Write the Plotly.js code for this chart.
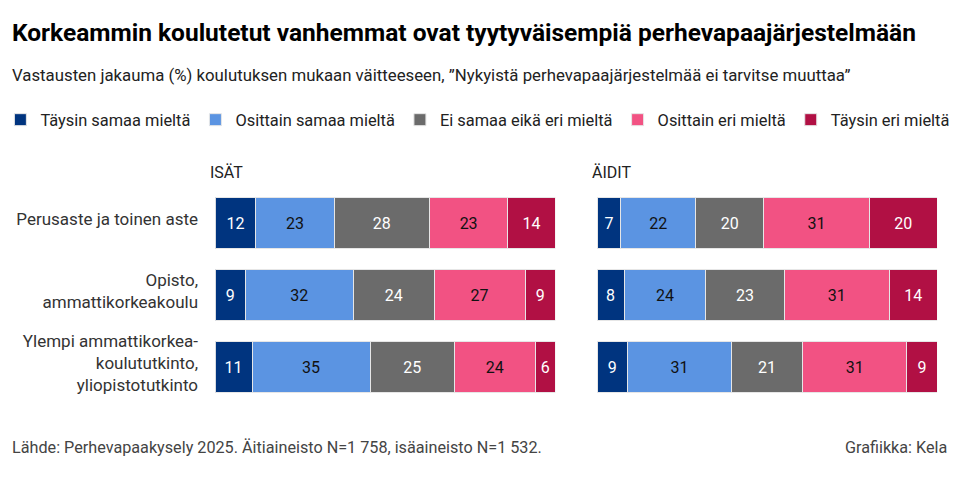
<!DOCTYPE html>
<html>
<head>
<meta charset="utf-8">
<script src="https://cdn.plot.ly/plotly-3.0.1.min.js"></script>
<style>
  html, body { margin: 0; padding: 0; background: #fff; }
</style>
</head>
<body>
<div id="chart" style="width:960px;height:482px;"></div>
<script>
// education levels, top to bottom
const categories = [
    'Perusaste ja toinen aste',
    'Opisto,<br>ammattikorkeakoulu',
    'Ylempi ammattikorkea-<br>koulututkinto,<br>yliopistotutkinto'
];
const responses = ['Täysin samaa mieltä', 'Osittain samaa mieltä', 'Ei samaa eikä eri mieltä', 'Osittain eri mieltä', 'Täysin eri mieltä'];
const colors = ['#00347f', '#5b94e2', '#6b6b6b', '#f25283', '#b11044'];
const textColors = ['#ffffff', '#111111', '#ffffff', '#111111', '#ffffff'];

// ISÄT (fathers), one array per response, values per category
const isatTaysinSamaa = [12, 9, 11];
const isatOsittainSamaa = [23, 32, 35];
const isatEiSamaaEiEri = [28, 24, 25];
const isatOsittainEri = [23, 27, 24];
const isatTaysinEri = [14, 9, 6];

// ÄIDIT (mothers)
const aiditTaysinSamaa = [7, 8, 9];
const aiditOsittainSamaa = [22, 24, 31];
const aiditEiSamaaEiEri = [20, 23, 21];
const aiditOsittainEri = [31, 31, 31];
const aiditTaysinEri = [20, 14, 9];

const isat = [isatTaysinSamaa, isatOsittainSamaa, isatEiSamaaEiEri, isatOsittainEri, isatTaysinEri];
const aidit = [aiditTaysinSamaa, aiditOsittainSamaa, aiditEiSamaaEiEri, aiditOsittainEri, aiditTaysinEri];

const FONT = 'Roboto, "Noto Sans", sans-serif';

var data = [];
function addTraces(series, xaxis, yaxis, showlegend) {
    series.forEach((values, i) => {
        data.push({
            type: 'bar',
            orientation: 'h',
            x: values,
            y: categories,
            xaxis: xaxis,
            yaxis: yaxis,
            name: responses[i],
            legendgroup: responses[i],
            showlegend: showlegend,
            text: values.map(String),
            texttemplate: '%{text}',
            textposition: 'inside',
            insidetextanchor: 'middle',
            textangle: 0,
            constraintext: 'none',
            textfont: { family: FONT, size: 16, color: textColors[i] },
            marker: { color: colors[i], line: { color: '#e6e6e6', width: 1 } },
            hoverinfo: 'skip'
        });
    });
}
addTraces(isat, 'x', 'y', true);
addTraces(aidit, 'x2', 'y2', false);

// plot area starts 130px from the top, so the legend sits above it
const TOP = 130, H = 482;
function py(px) { return (H - px) / (H - TOP); }

const yDomain = [py(403), py(187)];
const hiddenX = { range: [0, 100], showgrid: false, zeroline: false, showticklabels: false, showline: false, fixedrange: true };

const layout = {
    width: 960,
    height: H,
    margin: { l: 0, r: 0, t: TOP, b: 0 },
    paper_bgcolor: '#ffffff',
    plot_bgcolor: '#ffffff',
    font: { family: FONT, color: '#333333' },
    barmode: 'stack',
    barnorm: 'percent',
    bargap: 0.29,
    xaxis: Object.assign({ domain: [0.2175, 0.575] }, hiddenX),
    xaxis2: Object.assign({ domain: [0.6187, 0.976] }, hiddenX),
    yaxis: {
        domain: yDomain,
        anchor: 'x',
        autorange: 'reversed',
        showgrid: false,
        zeroline: false,
        showline: false,
        ticks: '',
        ticklabelstandoff: 16,
        ticklabelshift: 4,
        tickfont: { family: FONT, size: 17, color: '#333333' }
    },
    yaxis2: {
        domain: yDomain,
        anchor: 'x2',
        autorange: 'reversed',
        showgrid: false,
        zeroline: false,
        showline: false,
        showticklabels: false
    },
    showlegend: true,
    legend: {
        orientation: 'h',
        x: -0.008,
        xanchor: 'left',
        y: py(120),
        yanchor: 'middle',
        traceorder: 'normal',
        font: { family: FONT, size: 16.4, color: '#222222' },
        itemclick: false,
        itemdoubleclick: false
    },
    annotations: [
        {
            text: '<b>Korkeammin koulutetut vanhemmat ovat tyytyväisempiä perhevapaajärjestelmään</b>',
            xref: 'paper', yref: 'paper', x: 0.002, y: py(33),
            xanchor: 'left', yanchor: 'middle', showarrow: false,
            font: { family: FONT, size: 24.5, color: '#000000' }
        },
        {
            text: 'Vastausten jakauma (%) koulutuksen mukaan väitteeseen, ”Nykyistä perhevapaajärjestelmää ei tarvitse muuttaa”',
            xref: 'paper', yref: 'paper', x: 0.002, y: py(75),
            xanchor: 'left', yanchor: 'middle', showarrow: false,
            font: { family: FONT, size: 16.8, color: '#222222' }
        },
        {
            text: 'ISÄT',
            xref: 'paper', yref: 'paper', x: 0.2105, y: py(172),
            xanchor: 'left', yanchor: 'middle', showarrow: false,
            font: { family: FONT, size: 16, color: '#222222' }
        },
        {
            text: 'ÄIDIT',
            xref: 'paper', yref: 'paper', x: 0.6115, y: py(172),
            xanchor: 'left', yanchor: 'middle', showarrow: false,
            font: { family: FONT, size: 16, color: '#222222' }
        },
        {
            text: 'Lähde: Perhevapaakysely 2025. Äitiaineisto N=1 758, isäaineisto N=1 532.',
            xref: 'paper', yref: 'paper', x: 0.002, y: py(447),
            xanchor: 'left', yanchor: 'middle', showarrow: false,
            font: { family: FONT, size: 16.2, color: '#444444' }
        },
        {
            text: 'Grafiikka: Kela',
            xref: 'paper', yref: 'paper', x: 0.988, y: py(447),
            xanchor: 'right', yanchor: 'middle', showarrow: false,
            font: { family: FONT, size: 16.2, color: '#444444' }
        }
    ]
};

Plotly.newPlot('chart', data, layout, { displayModeBar: false, staticPlot: true });
</script>
</body>
</html>
